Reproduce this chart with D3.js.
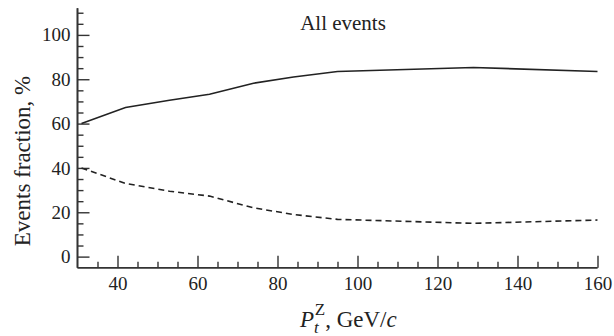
<!DOCTYPE html>
<html>
<head>
<meta charset="utf-8">
<script src="https://cdn.jsdelivr.net/npm/d3@7"></script>
<style>
  html, body { margin: 0; padding: 0; background: #fff; }
  svg { display: block; }
  svg text { font-family: "Liberation Serif", "LiberationSerif", "Times New Roman", Times, "Nimbus Roman", "DejaVu Serif", serif !important; fill: #222; }
</style>
</head>
<body>
<script>
// ---- data ----
const ptValues = [31, 42, 53, 63, 74, 84, 95, 129, 160];
const solidSeries = [60, 67.3, 70.5, 73.2, 78.2, 81, 83.5, 85.3, 83.5];
const dashedSeries = [40, 33, 29.5, 27.3, 22, 19, 16.8, 15, 16.5];
const xMajorTicks = [40, 60, 80, 100, 120, 140, 160];
const yMajorTicks = [0, 20, 40, 60, 80, 100];
const chartTitle = "All events";

const W = 614, H = 336;
const svg = d3.select("body").append("svg").attr("width", W).attr("height", H);

const x = d3.scaleLinear().domain([30, 160]).range([77.5, 597.5]);
const y = d3.scaleLinear().domain([-5, 112]).range([267.7, 8.3]);

const xMinor = d3.range(35, 161, 5).filter(v => !xMajorTicks.includes(v));
const yMinor = d3.range(5, 111, 5).filter(v => !yMajorTicks.includes(v));

const axisColor = "#333";

// Y axis
const gy = svg.append("g").attr("transform", `translate(${x(30)},0)`);
gy.call(d3.axisLeft(y).tickValues(yMinor).tickSize(-6).tickFormat(""));
const gy2 = svg.append("g").attr("transform", `translate(${x(30)},0)`);
gy2.call(d3.axisLeft(y).tickValues(yMajorTicks).tickSize(-12).tickPadding(7));
[gy, gy2].forEach(g => {
  g.attr("font-family", null);
  g.select(".domain").attr("stroke", axisColor).attr("stroke-width", 1.6).attr("d", `M0,${y(-5)}V${y(112)}`);
  g.selectAll(".tick line").attr("stroke", axisColor).attr("stroke-width", 1.4);
});
gy2.selectAll(".tick text").style("font-size", "19px").attr("fill", "#222");

// X axis
const gx = svg.append("g").attr("transform", `translate(0,${y(-5)})`);
gx.call(d3.axisBottom(x).tickValues(xMinor).tickSize(-6).tickFormat(""));
const gx2 = svg.append("g").attr("transform", `translate(0,${y(-5)})`);
gx2.call(d3.axisBottom(x).tickValues(xMajorTicks).tickSize(-12).tickPadding(9));
[gx, gx2].forEach(g => {
  g.attr("font-family", null);
  g.select(".domain").attr("stroke", axisColor).attr("stroke-width", 1.6).attr("d", `M${x(30)},0H${x(160)}`);
  g.selectAll(".tick line").attr("stroke", axisColor).attr("stroke-width", 1.4);
});
gx2.selectAll(".tick text").style("font-size", "19px").attr("fill", "#222");

// Lines
const line = d3.line().x((d, i) => x(ptValues[i])).y(d => y(d));
svg.append("path").datum(solidSeries).attr("d", line)
  .attr("fill", "none").attr("stroke", "#222").attr("stroke-width", 1.6);
svg.append("path").datum(dashedSeries).attr("d", line)
  .attr("fill", "none").attr("stroke", "#222").attr("stroke-width", 1.6)
  .attr("stroke-dasharray", "6,4");

// Title
svg.append("text").attr("x", 343).attr("y", 30).attr("text-anchor", "middle")
  .style("font-size", "21px").text(chartTitle);

// Y label
svg.append("text")
  .attr("transform", `translate(30,${161}) rotate(-90)`)
  .attr("text-anchor", "middle")
  .style("font-size", "23px")
  .text("Events fraction, %");

// X label
const xl = svg.append("text").attr("x", 300).attr("y", 327).style("font-size", "23px");
xl.append("tspan").style("font-style", "italic").text("P");
xl.append("tspan").style("font-style", "italic").style("font-size", "17px").attr("dy", 6).text("t");
xl.append("tspan").style("font-size", "17px").attr("dx", -4).attr("dy", -18).text("Z");
xl.append("tspan").attr("dy", 12).text(", GeV/");
xl.append("tspan").style("font-style", "italic").text("c");
</script>
</body>
</html>
